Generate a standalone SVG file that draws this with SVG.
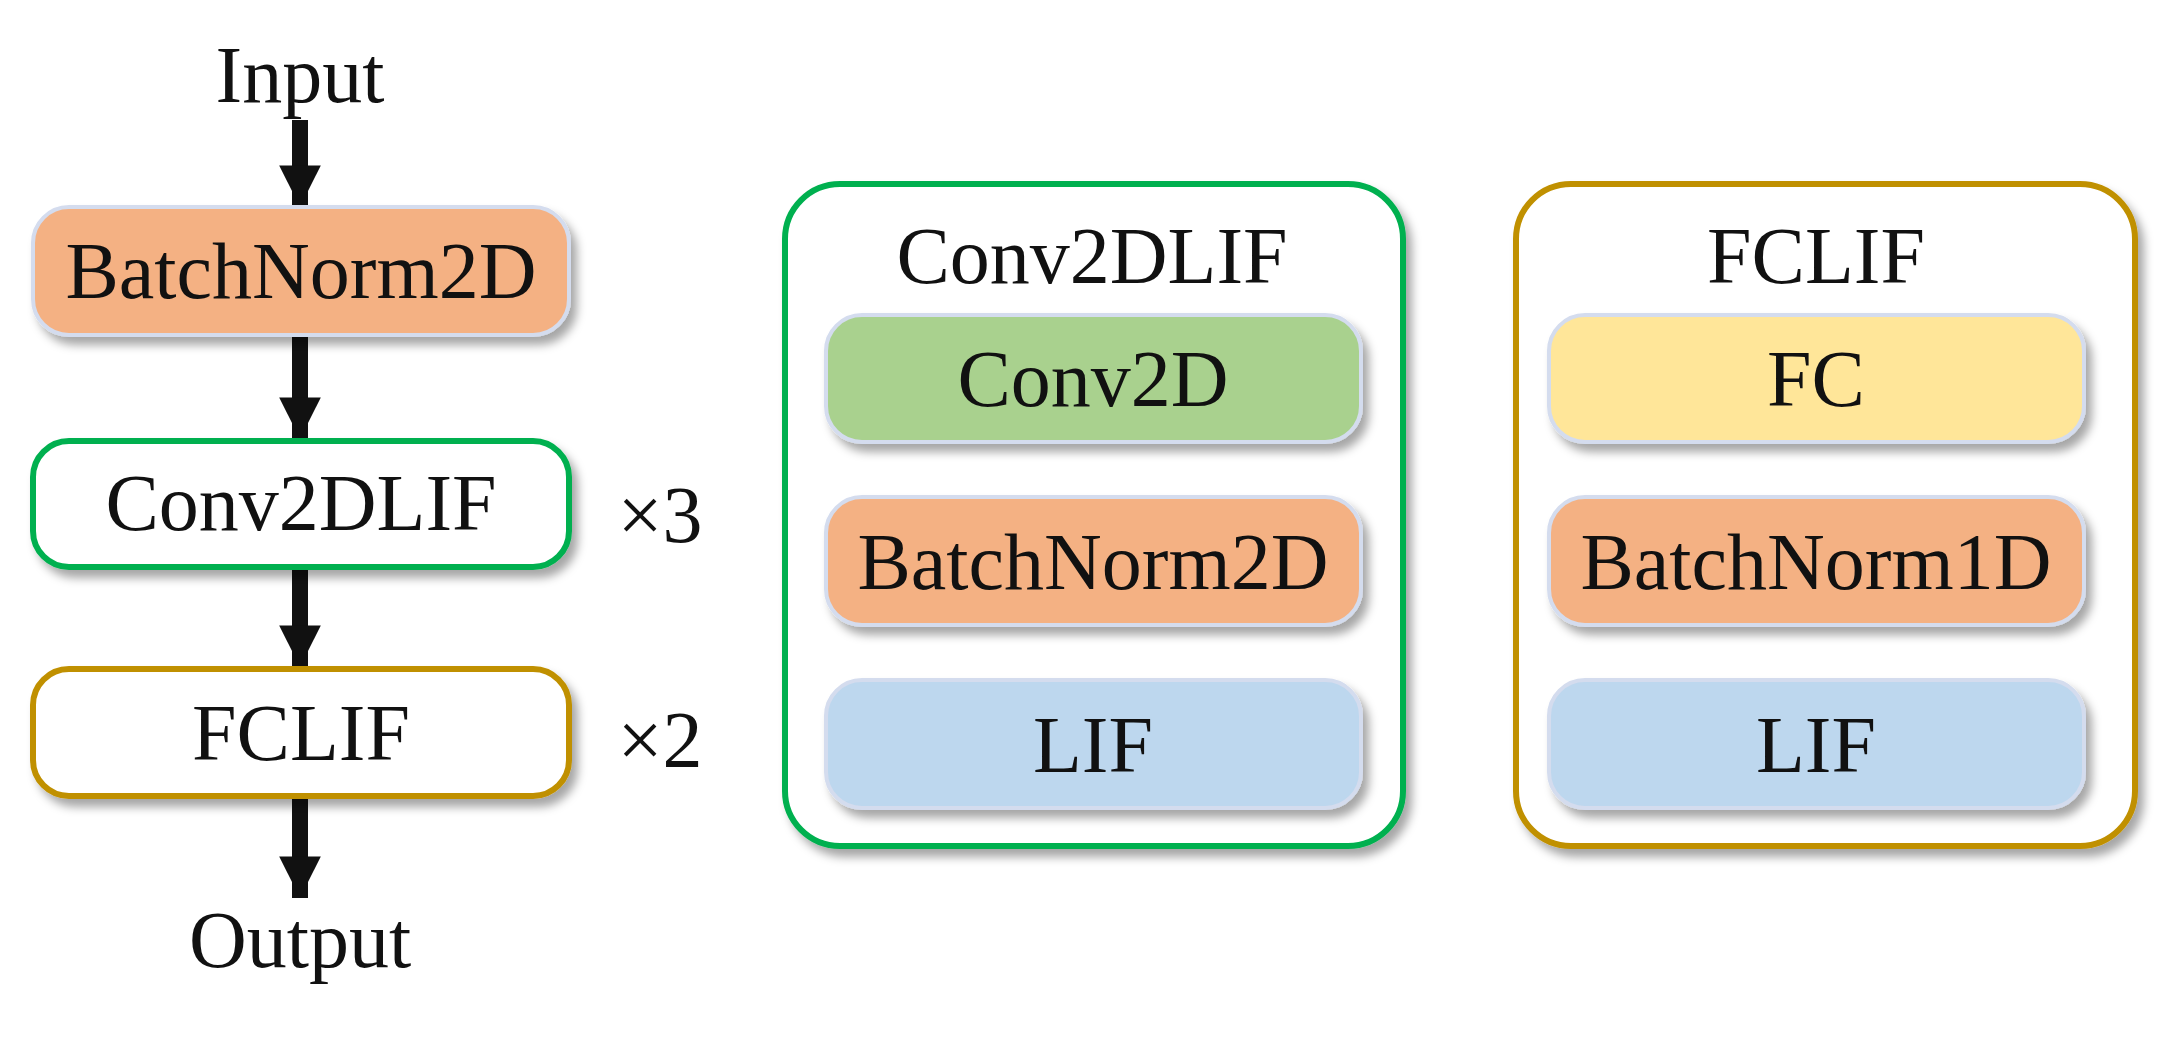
<svg xmlns="http://www.w3.org/2000/svg" width="2167" height="1037" viewBox="0 0 2167 1037">
<defs>
<filter id="sh" x="-10%" y="-20%" width="130%" height="150%"><feDropShadow dx="6" dy="8" stdDeviation="5" flood-color="#000" flood-opacity="0.35"/></filter>
<marker id="ah" viewBox="0 0 10 10" refX="10" refY="5" markerWidth="2.6" markerHeight="2.6" markerUnits="strokeWidth" orient="auto"><path d="M0,0 L10,5 L0,10 z" fill="#111"/></marker>
<marker id="ahs" viewBox="0 0 10 10" refX="10" refY="5" markerWidth="2.8" markerHeight="2.8" markerUnits="strokeWidth" orient="auto"><path d="M0,0 L10,5 L0,10 z" fill="#111"/></marker>
</defs>
<style>
text{font-family:"Liberation Serif","Times New Roman",serif;font-size:80px;fill:#111;text-anchor:middle}
.blk{stroke:#d4dcee;stroke-width:4;filter:url(#sh)}
.c{stroke:#111;stroke-width:16;fill:none;marker-end:url(#ah)}
.cs{stroke:#111;stroke-width:11;fill:none;marker-end:url(#ahs)}
</style>
<rect width="2167" height="1037" fill="#fff"/>
<g id="connectors">
<line class="c" x1="300" y1="120" x2="300" y2="207"/>
<line class="c" x1="300" y1="336" x2="300" y2="439"/>
<line class="c" x1="300" y1="569" x2="300" y2="667"/>
<line class="c" x1="300" y1="799" x2="300" y2="898"/>
<line class="cs" x1="1092" y1="443" x2="1092" y2="497"/>
<line class="cs" x1="1092" y1="626" x2="1092" y2="680"/>
<line class="cs" x1="1816" y1="443" x2="1816" y2="497"/>
<line class="cs" x1="1816" y1="626" x2="1816" y2="680"/>
</g>
<g id="input"><text x="300" y="102">Input</text></g>
<g id="output"><text x="300" y="967">Output</text></g>
<g id="bn2d"><rect class="blk" x="33" y="207" width="536" height="128" rx="36" fill="#f4b183"/><text x="301" y="298">BatchNorm2D</text></g>
<g id="conv2dlif"><rect x="33" y="441" width="536" height="126" rx="36" fill="#fff" stroke="#00b050" stroke-width="6" filter="url(#sh)"/><text x="301" y="530">Conv2DLIF</text></g>
<g id="fclif"><rect x="33" y="669" width="536" height="127" rx="36" fill="#fff" stroke="#c09000" stroke-width="6" filter="url(#sh)"/><text x="301" y="760">FCLIF</text></g>
<g id="x3"><text x="660" y="542">×3</text></g>
<g id="x2"><text x="660" y="767">×2</text></g>
<g id="conv2dlif-detail"><rect x="785" y="184" width="618" height="662" rx="55" fill="#fff" stroke="#00b050" stroke-width="6" filter="url(#sh)"/><text x="1092" y="283">Conv2DLIF</text></g>
<g id="conv2d"><rect class="blk" x="826" y="315" width="535" height="127" rx="36" fill="#a9d18e"/><text x="1093" y="406">Conv2D</text></g>
<g id="bn2d-b"><rect class="blk" x="826" y="497" width="535" height="128" rx="36" fill="#f4b183"/><text x="1093" y="589">BatchNorm2D</text></g>
<g id="lif-a"><rect class="blk" x="826" y="680" width="535" height="128" rx="36" fill="#bdd7ee"/><text x="1093" y="772">LIF</text></g>
<g id="fclif-detail"><rect x="1516" y="184" width="619" height="662" rx="55" fill="#fff" stroke="#c09000" stroke-width="6" filter="url(#sh)"/><text x="1816" y="283">FCLIF</text></g>
<g id="fc"><rect class="blk" x="1549" y="315" width="535" height="127" rx="36" fill="#ffe699"/><text x="1816" y="406">FC</text></g>
<g id="bn1d"><rect class="blk" x="1549" y="497" width="535" height="128" rx="36" fill="#f4b183"/><text x="1816" y="589">BatchNorm1D</text></g>
<g id="lif-b"><rect class="blk" x="1549" y="680" width="535" height="128" rx="36" fill="#bdd7ee"/><text x="1816" y="772">LIF</text></g>
</svg>
